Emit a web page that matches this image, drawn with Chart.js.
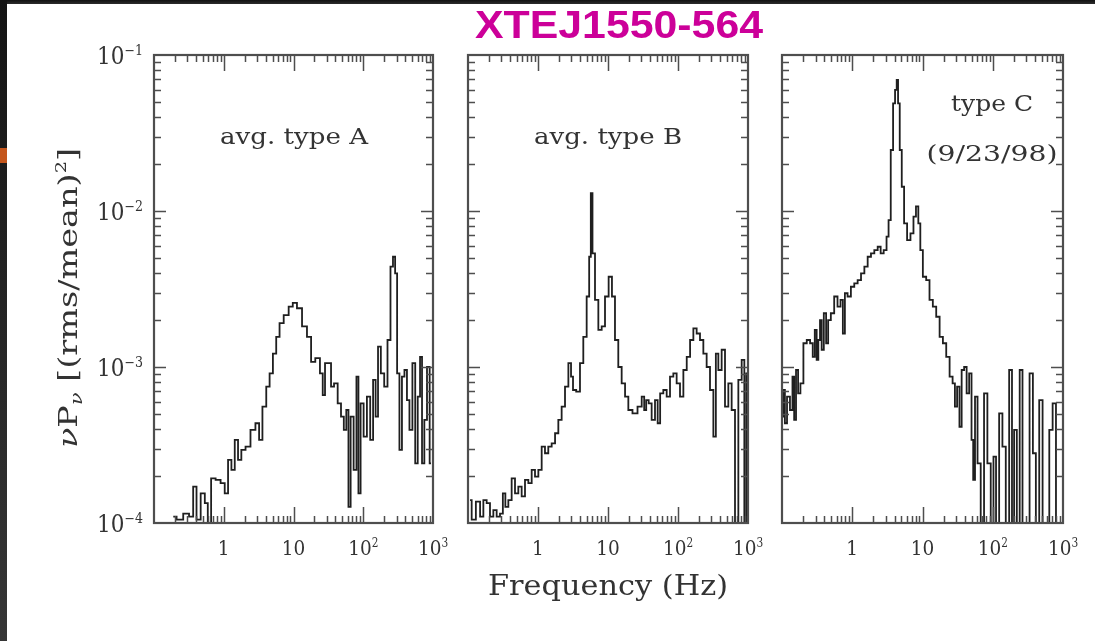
<!DOCTYPE html>
<html>
<head>
<meta charset="utf-8">
<title>XTEJ1550-564 power spectra</title>
<script src="https://cdn.jsdelivr.net/npm/chart.js@4/dist/chart.umd.min.js"></script>
<style>
  html, body { margin: 0; padding: 0; background: #fff; }
  #wrap { position: relative; width: 1095px; height: 641px; overflow: hidden; background: #fff; }
  #wrap canvas { position: absolute; left: 0; top: 0; }
  .edge-top { position: absolute; left: 0; top: 0; width: 1095px; height: 4px; background: linear-gradient(#111, #2c2c2c); }
  .edge-left { position: absolute; left: 0; top: 0; width: 7px; height: 641px; background: linear-gradient(#141414, #363636); }
  .edge-mark { position: absolute; left: 0; top: 148px; width: 7px; height: 15px; background: #c4561c; }
</style>
</head>
<body>
<div id="wrap">
  <div class="edge-top"></div>
  <div class="edge-left"></div>
  <div class="edge-mark"></div>
  <canvas id="pA" width="1095" height="641"></canvas>
  <canvas id="pB" width="1095" height="641"></canvas>
  <canvas id="pC" width="1095" height="641"></canvas>
</div>
<script>
// ---- Power spectra: frequency (Hz) and nu*P_nu ((rms/mean)^2) ----
const freqA = [
  0.189, 0.235, 0.293, 0.345, 0.385, 0.430, 0.507, 0.565, 0.617, 0.704,
  0.830, 0.978, 1.09, 1.22, 1.36, 1.52, 1.69, 1.89, 2.23, 2.62,
  3.09, 3.34, 3.85, 4.30, 4.80, 5.35, 5.97, 6.67, 7.85, 9.26,
  10.3, 12.2, 14.4, 16.9, 18.9, 22.3, 25.7, 26.8, 29.9, 33.4,
  35.7, 40.7, 45.4, 50.7, 54.7, 59.7, 63.1, 68.9, 76.9, 83.0,
  87.7, 95.7, 107, 119, 133, 144, 157, 169, 189, 211,
  235, 257, 277, 296, 316, 345, 373, 407, 440, 480,
  535, 578, 631, 674, 719, 785, 857, 936
];
const powA = [
  1.10e-4, 1.05e-4, 1.15e-4, 1.10e-4, 1.71e-4, 1.05e-4, 1.55e-4, 1.34e-4, 0.90e-4, 1.93e-4,
  1.89e-4, 1.80e-4, 1.55e-4, 2.54e-4, 2.19e-4, 3.41e-4, 2.54e-4, 2.94e-4, 3.09e-4, 3.95e-4,
  4.36e-4, 3.41e-4, 5.57e-4, 7.48e-4, 9.11e-4, 1.22e-3, 1.56e-3, 1.91e-3, 2.15e-3, 2.44e-3,
  2.58e-3, 2.38e-3, 1.82e-3, 1.56e-3, 1.08e-3, 1.14e-3, 9.11e-4, 6.61e-4, 1.06e-3, 1.06e-3,
  7.48e-4, 7.86e-4, 5.85e-4, 4.81e-4, 3.95e-4, 5.30e-4, 1.27e-4, 4.81e-4, 2.19e-4, 8.67e-4,
  1.55e-4, 5.85e-4, 3.58e-4, 6.45e-4, 3.41e-4, 8.26e-4, 4.81e-4, 1.35e-3, 9.11e-4, 7.48e-4,
  1.49e-3, 4.40e-3, 5.09e-3, 3.98e-3, 9.11e-4, 2.94e-4, 8.67e-4, 9.57e-4, 6.14e-4, 3.95e-4,
  1.06e-3, 2.41e-4, 6.45e-4, 1.16e-3, 2.41e-4, 4.58e-4, 1.00e-3, 2.41e-4
];

const freqB = [
  0.107, 0.119, 0.141, 0.157, 0.175, 0.195, 0.218, 0.243, 0.271, 0.303,
  0.327, 0.357, 0.398, 0.444, 0.496, 0.553, 0.617, 0.689, 0.769, 0.858,
  0.957, 1.07, 1.19, 1.33, 1.48, 1.66, 1.85, 2.06, 2.30, 2.57,
  2.87, 3.06, 3.27, 3.77, 4.20, 4.69, 5.24, 5.53, 5.84, 6.17,
  6.89, 7.69, 8.58, 9.57, 10.9, 11.9, 13.3, 14.8, 16.6, 18.5,
  20.6, 24.3, 28.7, 32.0, 33.8, 36.5, 39.8, 44.4, 49.6, 52.9,
  58.4, 65.2, 72.8, 81.2, 90.6, 101, 113, 126, 141, 157,
  175, 195, 218, 243, 271, 303, 338, 357, 398, 444,
  496, 553, 617, 689, 769, 858, 916, 978
];
const powB = [
  1.40e-4, 1.05e-4, 1.37e-4, 1.10e-4, 1.40e-4, 1.34e-4, 1.10e-4, 1.21e-4, 1.10e-4, 1.15e-4,
  1.55e-4, 1.27e-4, 1.40e-4, 1.93e-4, 1.55e-4, 1.71e-4, 1.48e-4, 1.89e-4, 1.80e-4, 2.19e-4,
  1.98e-4, 2.19e-4, 3.09e-4, 2.80e-4, 3.09e-4, 3.24e-4, 3.76e-4, 4.58e-4, 5.57e-4, 7.48e-4,
  1.06e-3, 8.67e-4, 7.12e-4, 6.95e-4, 1.06e-3, 1.56e-3, 2.83e-3, 5.09e-3, 1.30e-2, 5.35e-3,
  2.69e-3, 1.73e-3, 1.82e-3, 2.83e-3, 3.79e-3, 2.83e-3, 1.49e-3, 1.00e-3, 7.86e-4, 6.45e-4,
  5.30e-4, 5.05e-4, 5.57e-4, 6.45e-4, 5.30e-4, 6.14e-4, 5.85e-4, 4.58e-4, 6.14e-4, 4.36e-4,
  6.78e-4, 7.12e-4, 6.45e-4, 8.67e-4, 9.11e-4, 7.86e-4, 6.45e-4, 9.57e-4, 1.16e-3, 1.49e-3,
  1.77e-3, 1.64e-3, 1.49e-3, 1.22e-3, 1.00e-3, 7.12e-4, 3.58e-4, 1.22e-3, 9.57e-4, 1.29e-3,
  5.57e-4, 7.86e-4, 5.30e-4, 0.80e-4, 8.26e-4, 1.11e-3, 0.80e-4, 9.11e-4
];

const freqC = [
  0.101, 0.107, 0.113, 0.123, 0.137, 0.145, 0.153, 0.164, 0.175, 0.191,
  0.213, 0.238, 0.265, 0.283, 0.303, 0.320, 0.338, 0.357, 0.377, 0.411,
  0.439, 0.469, 0.524, 0.584, 0.652, 0.711, 0.760, 0.812, 0.906, 1.01,
  1.13, 1.26, 1.41, 1.57, 1.75, 1.95, 2.18, 2.43, 2.65, 2.96,
  3.20, 3.38, 3.69, 3.94, 4.20, 4.39, 4.59, 4.90, 5.24, 5.71,
  6.38, 7.12, 7.77, 8.39, 9.06, 9.57, 10.7, 11.9, 13.3, 14.8,
  16.6, 18.5, 20.6, 23.0, 25.7, 28.0, 29.9, 32.3, 34.9, 37.3,
  41.1, 43.9, 48.5, 51.3, 54.1, 57.8, 63.8, 71.2, 79.4, 88.6,
  98.9, 106, 117, 130, 145, 162, 181, 195, 208, 233,
  251, 280, 313, 357, 389, 434, 485, 541, 604, 674,
  752, 839, 957
];
const powC = [
  4.81e-4, 7.12e-4, 4.36e-4, 6.45e-4, 5.30e-4, 8.67e-4, 4.58e-4, 9.57e-4, 6.78e-4, 7.86e-4,
  1.42e-3, 1.49e-3, 1.42e-3, 1.16e-3, 1.73e-3, 1.11e-3, 1.49e-3, 2.00e-3, 1.29e-3, 2.21e-3,
  1.42e-3, 2.00e-3, 2.21e-3, 2.83e-3, 2.44e-3, 2.69e-3, 1.64e-3, 2.97e-3, 2.83e-3, 3.27e-3,
  3.44e-3, 3.61e-3, 3.98e-3, 4.40e-3, 5.09e-3, 5.35e-3, 5.62e-3, 5.90e-3, 5.35e-3, 5.62e-3,
  6.85e-3, 8.75e-3, 2.46e-2, 4.90e-2, 5.97e-2, 6.92e-2, 4.90e-2, 2.46e-2, 1.43e-2, 8.34e-3,
  6.51e-3, 7.19e-3, 9.20e-3, 1.07e-2, 8.34e-3, 5.62e-3, 3.79e-3, 3.61e-3, 2.69e-3, 2.44e-3,
  2.10e-3, 1.56e-3, 1.42e-3, 1.16e-3, 8.67e-4, 7.86e-4, 5.57e-4, 7.48e-4, 4.14e-4, 9.57e-4,
  1.00e-3, 6.78e-4, 9.11e-4, 3.41e-4, 1.89e-4, 6.45e-4, 2.41e-4, 0.70e-4, 6.78e-4, 2.41e-4,
  0.70e-4, 2.66e-4, 0.70e-4, 5.05e-4, 3.09e-4, 0.70e-4, 9.57e-4, 0.70e-4, 3.95e-4, 0.70e-4,
  9.57e-4, 0.70e-4, 0.70e-4, 9.11e-4, 2.80e-4, 0.70e-4, 6.14e-4, 0.70e-4, 0.70e-4, 3.95e-4,
  5.85e-4, 0.70e-4, 0.70e-4
];

// ---- Axis ranges and tick labels ----
const xRange = [0.1, 1000];
const yRange = [1e-4, 0.1];
const xTickValues = [1, 10, 100, 1000];
const xTickBase = ['1', '10', '10', '10'];
const xTickExp = ['', '', '2', '3'];
const yTickValues = [0.1, 0.01, 0.001, 0.0001];
const yTickBase = ['10', '10', '10', '10'];
const yTickExp = ['\u22121', '\u22122', '\u22123', '\u22124'];

// ---- Text ----
const titleText = 'XTEJ1550-564';
const xTitleText = 'Frequency (Hz)';
const panelNotes = [
  ['avg. type A'],
  ['avg. type B'],
  ['type C', '(9/23/98)']
];

const SERIF = '"DejaVu Serif", "Liberation Serif", serif';
const INK = '#333333';

// Draws a run of text pieces (sub/superscripts via dy), optionally squeezed to a width and rotated.
function richText(ctx, segs, x, y, o) {
  ctx.save();
  const fam = o.family || SERIF;
  const widths = [];
  let total = 0;
  segs.forEach(s => {
    ctx.font = `${s.style || 'normal'} ${s.weight || 'normal'} ${s.px}px ${fam}`;
    const w = ctx.measureText(s.t).width;
    widths.push(w);
    total += w;
  });
  const sx = o.width ? o.width / total : (o.sx || 1);
  ctx.translate(x, y);
  if (o.rotate) ctx.rotate(o.rotate);
  ctx.scale(sx, 1);
  let cx = o.align === 'right' ? -total : (o.align === 'left' ? 0 : -total / 2);
  ctx.fillStyle = o.color || INK;
  ctx.textBaseline = 'alphabetic';
  ctx.textAlign = 'left';
  segs.forEach((s, i) => {
    ctx.font = `${s.style || 'normal'} ${s.weight || 'normal'} ${s.px}px ${fam}`;
    ctx.fillText(s.t, cx, s.dy || 0);
    cx += widths[i];
  });
  ctx.restore();
}

// Boxed frame with inward log ticks on all four sides, plus tick labels.
const logFrame = {
  id: 'logFrame',
  afterDatasetsDraw(chart, args, opts) {
    const { ctx, chartArea: a, scales: { x, y } } = chart;
    ctx.save();
    ctx.strokeStyle = '#4e4e4e';
    ctx.lineWidth = 1.5;
    ctx.beginPath();
    for (let e = -1; e <= 3; e++) {
      for (let m = 1; m <= 9; m++) {
        const v = m * Math.pow(10, e);
        if (v <= x.min * 1.0001 || v >= x.max * 0.9999) continue;
        const px = Math.round(x.getPixelForValue(v)) + 0.5;
        const L = m === 1 ? 16 : 7;
        ctx.moveTo(px, a.bottom); ctx.lineTo(px, a.bottom - L);
        ctx.moveTo(px, a.top); ctx.lineTo(px, a.top + L);
      }
    }
    for (let e = -4; e <= -1; e++) {
      for (let m = 1; m <= 9; m++) {
        const v = m * Math.pow(10, e);
        if (v <= y.min * 1.0001 || v >= y.max * 0.9999) continue;
        const py = Math.round(y.getPixelForValue(v)) + 0.5;
        const L = m === 1 ? 12 : 7;
        ctx.moveTo(a.left, py); ctx.lineTo(a.left + L, py);
        ctx.moveTo(a.right, py); ctx.lineTo(a.right - L, py);
      }
    }
    ctx.stroke();
    ctx.lineWidth = 2.2;
    ctx.strokeRect(a.left, a.top, a.right - a.left, a.bottom - a.top);
    ctx.restore();

    // frequency tick labels
    xTickValues.forEach((v, i) => {
      const segs = [{ t: xTickBase[i], px: 21 }];
      if (xTickExp[i]) segs.push({ t: xTickExp[i], px: 12, dy: -8 });
      richText(ctx, segs, x.getPixelForValue(v), a.bottom + 32, { align: 'center', sx: 0.88 });
    });

    // power tick labels on the first panel only
    if (opts.yLabels) {
      yTickValues.forEach((v, i) => {
        richText(ctx, [{ t: yTickBase[i], px: 24 }, { t: yTickExp[i], px: 14, dy: -9 }],
          a.left - 11, y.getPixelForValue(v) + 9, { align: 'right', width: 46 });
      });
    }

    // in-panel notes
    (opts.notes || []).forEach(n => {
      richText(ctx, [{ t: n.text, px: 22 }], n.x, n.y, { align: 'center', width: n.w });
    });

    if (opts.page) {
      // page title
      richText(ctx, [{ t: titleText, px: 39, weight: 'bold' }], 619, 38,
        { align: 'center', width: 288, color: '#cc0099', family: '"Liberation Sans", Arial, sans-serif' });
      // shared frequency axis title
      richText(ctx, [{ t: xTitleText, px: 27 }], 608, 595, { align: 'center', width: 240 });
      // power axis title, rotated
      richText(ctx, [
        { t: '\u03bd', px: 26, style: 'italic' },
        { t: 'P', px: 26 },
        { t: '\u03bd', px: 16, style: 'italic', dy: 5 },
        { t: ' [(rms/mean)', px: 26 },
        { t: '2', px: 15, dy: -11 },
        { t: ']', px: 26 }
      ], 77, 298, { align: 'center', width: 300, rotate: -Math.PI / 2 });
    }
  }
};

const W = 1095, H = 641, TOP = 55, BOTTOM = 523;
const panels = [
  { id: 'pA', freq: freqA, pow: powA, left: 154, right: 433, yLabels: true, page: true,
    notes: [{ text: panelNotes[0][0], x: 294, y: 144, w: 148 }] },
  { id: 'pB', freq: freqB, pow: powB, left: 468, right: 748, yLabels: false, page: false,
    notes: [{ text: panelNotes[1][0], x: 608, y: 144, w: 148 }] },
  { id: 'pC', freq: freqC, pow: powC, left: 782, right: 1063, yLabels: false, page: false,
    notes: [{ text: panelNotes[2][0], x: 992, y: 111, w: 82 },
            { text: panelNotes[2][1], x: 992, y: 161, w: 131 }] }
];

panels.forEach(p => {
  new Chart(document.getElementById(p.id), {
    type: 'line',
    data: {
      datasets: [{
        data: p.freq.map((f, i) => ({ x: f, y: p.pow[i] })),
        stepped: 'middle',
        borderColor: '#1f1f1f',
        borderWidth: 1.8,
        borderJoinStyle: 'miter',
        pointRadius: 0,
        fill: false,
        clip: 0
      }]
    },
    options: {
      responsive: false,
      animation: false,
      devicePixelRatio: 1,
      layout: { padding: { left: p.left, right: W - p.right, top: TOP, bottom: H - BOTTOM } },
      plugins: {
        legend: { display: false },
        tooltip: { enabled: false },
        logFrame: { yLabels: p.yLabels, page: p.page, notes: p.notes }
      },
      scales: {
        x: { type: 'logarithmic', min: xRange[0], max: xRange[1], display: false },
        y: { type: 'logarithmic', min: yRange[0], max: yRange[1], display: false }
      }
    },
    plugins: [logFrame]
  });
});
</script>
</body>
</html>
